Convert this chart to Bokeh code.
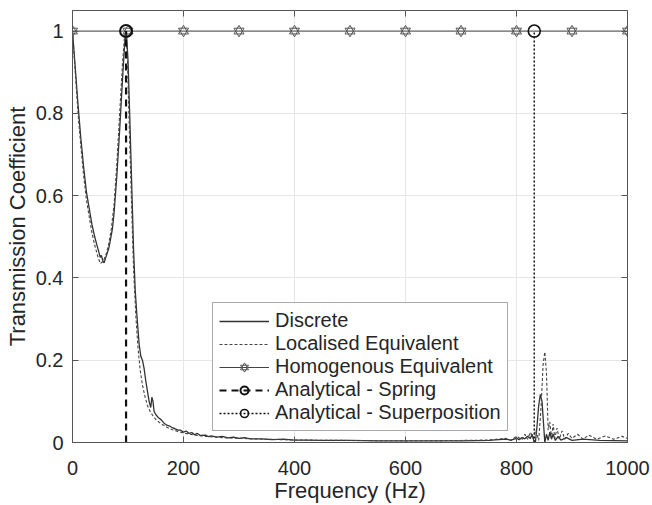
from bokeh.plotting import figure
from bokeh.models import LinearAxis, FixedTicker, Legend, LegendItem, Range1d
from bokeh.embed import file_html
from bokeh.resources import INLINE

# ---------------- data ----------------
disc_f = [0, 5, 10, 15, 20, 25, 30, 35, 40, 45, 50, 52, 55, 57, 60, 65, 68, 72, 75, 80, 85, 90, 94, 97,
          100, 103, 106, 110, 113, 116, 120, 123, 126, 129, 132, 135, 138, 141, 143, 145, 147, 150, 155,
          160, 165, 170, 175, 180, 185, 190, 195, 200, 205, 210, 215, 220, 225, 230, 240, 245, 250, 260,
          270, 280, 290, 300, 310, 320, 340, 360, 380, 400, 420, 450, 500, 550, 600, 650, 700, 750, 780,
          790, 800, 805, 810, 815, 820, 825, 828, 831, 834, 837, 840, 843, 846, 849, 851, 854, 857, 860,
          863, 866, 870, 875, 880, 890, 900, 920, 950, 1000]
disc_t = [1.0, 0.91, 0.82, 0.74, 0.67, 0.61, 0.57, 0.53, 0.50, 0.475, 0.45, 0.455, 0.44, 0.437, 0.45,
          0.47, 0.49, 0.52, 0.56, 0.65, 0.76, 0.88, 0.97, 1.0,
          0.93, 0.80, 0.66, 0.47, 0.37, 0.31, 0.24, 0.21, 0.20, 0.18, 0.15, 0.125, 0.10, 0.085, 0.11, 0.10,
          0.075, 0.068, 0.06, 0.055, 0.047, 0.042, 0.04, 0.036, 0.033, 0.03, 0.03, 0.025, 0.028, 0.022,
          0.024, 0.019, 0.022, 0.017, 0.018, 0.014, 0.016, 0.013, 0.015, 0.011, 0.013, 0.010, 0.012,
          0.009, 0.009, 0.007, 0.008, 0.006, 0.006, 0.005, 0.005, 0.004, 0.004, 0.004, 0.004, 0.005,
          0.008, 0.006, 0.010, 0.007, 0.012, 0.009, 0.015, 0.010, 0.020, 0.005, 0.0, 0.04, 0.09, 0.117,
          0.10, 0.04, 0.0, 0.02, 0.005, 0.025, 0.008, 0.02, 0.005, 0.015, 0.006, 0.012, 0.005, 0.008,
          0.005, 0.004]

loc_f = [0, 5, 10, 15, 20, 25, 30, 35, 40, 45, 50, 55, 60, 65, 70, 75, 80, 85, 90, 94, 96, 99, 102, 106,
         110, 114, 118, 122, 126, 130, 135, 140, 145, 150, 160, 170, 180, 190, 200, 220, 240, 260, 280,
         300, 350, 400, 500, 600, 700, 750, 780, 790, 800, 810, 815, 820, 825, 830, 835, 840, 844, 848,
         851, 854, 857, 860, 863, 866, 869, 873, 877, 882, 887, 893, 900, 910, 920, 930, 945, 960, 975,
         990, 1000]
loc_t = [1.0, 0.90, 0.80, 0.72, 0.65, 0.59, 0.55, 0.51, 0.48, 0.455, 0.435, 0.44, 0.455, 0.48, 0.52,
         0.58, 0.68, 0.80, 0.92, 0.99, 1.0, 0.93, 0.78, 0.60, 0.42, 0.31, 0.23, 0.175, 0.14, 0.115, 0.09,
         0.075, 0.065, 0.056, 0.045, 0.037, 0.031, 0.027, 0.023, 0.018, 0.015, 0.013, 0.011, 0.010,
         0.008, 0.006, 0.005, 0.004, 0.005, 0.006, 0.010, 0.005, 0.015, 0.007, 0.020, 0.008, 0.025,
         0.010, 0.030, 0.005, 0.08, 0.19, 0.22, 0.17, 0.03, 0.05, 0.01, 0.045, 0.01, 0.035, 0.008, 0.028,
         0.008, 0.022, 0.010, 0.020, 0.008, 0.018, 0.008, 0.016, 0.008, 0.015, 0.010]

homo_f = [0, 100, 200, 300, 400, 500, 600, 700, 800, 900, 1000]
homo_t = [1, 1, 1, 1, 1, 1, 1, 1, 1, 1, 1]

spring_f = [96.5, 96.5]
spring_t = [0, 1]
super_f = [832, 832]
super_t = [0, 1]

x_ticks = [0, 200, 400, 600, 800, 1000]
y_ticks = [0, 0.2, 0.4, 0.6, 0.8, 1]
y_tick_labels = ["0", "0.2", "0.4", "0.6", "0.8", "1"]

FONT = "Liberation Sans"

p = figure(width=652, height=505, output_backend="svg", toolbar_location=None,
           x_range=Range1d(0, 1000), y_range=Range1d(0, 1.05),
           min_border_left=72, min_border_right=25, min_border_top=10, min_border_bottom=62)
p.background_fill_color = "white"
p.border_fill_color = "white"
p.outline_line_color = "#555555"
p.outline_line_width = 1

for ax in (p.xaxis[0], p.yaxis[0]):
    ax.axis_line_color = "#555555"
    ax.major_tick_in = 6
    ax.major_tick_out = 0
    ax.minor_tick_line_color = None
    ax.major_tick_line_color = "#555555"
    ax.major_label_text_font = FONT
    ax.major_label_text_font_size = "20px"
    ax.major_label_text_color = "#262626"
    ax.axis_label_text_font = FONT
    ax.axis_label_text_font_size = "22px"
    ax.axis_label_text_font_style = "normal"
    ax.axis_label_text_color = "#262626"

p.xaxis.ticker = FixedTicker(ticks=x_ticks)
p.yaxis.ticker = FixedTicker(ticks=y_ticks)
p.yaxis.major_label_overrides = {t: l for t, l in zip(y_ticks, y_tick_labels)}
p.xaxis.axis_label = "Frequency (Hz)"
p.yaxis.axis_label = "Transmission Coefficient"
p.xaxis.major_label_standoff = 18
p.xaxis.axis_label_standoff = 0
p.yaxis.major_label_standoff = 9
p.yaxis.axis_label_standoff = 3

for loc, tk in (("above", x_ticks), ("right", y_ticks)):
    a = LinearAxis(ticker=FixedTicker(ticks=tk), axis_line_color=None,
                   major_tick_in=6, major_tick_out=0, minor_tick_line_color=None,
                   major_tick_line_color="#555555", major_label_text_font_size="0px",
                   major_label_standoff=0)
    p.add_layout(a, loc)

p.xgrid.ticker = FixedTicker(ticks=x_ticks)
p.ygrid.ticker = FixedTicker(ticks=y_ticks)
p.grid.grid_line_color = "#e6e6e6"
p.grid.grid_line_width = 1

r_disc = p.line(disc_f, disc_t, line_color="#333333", line_width=1.3)
r_loc = p.line(loc_f, loc_t, line_color="#444444", line_width=1.1, line_dash="3 2")
r_homo = p.line(homo_f, homo_t, line_color="#444444", line_width=1)
r_h1 = p.scatter(homo_f, homo_t, marker="triangle", size=10, fill_color=None,
                 line_color="#555555", line_width=1)
r_h2 = p.scatter(homo_f, homo_t, marker="inverted_triangle", size=10, fill_color=None,
                 line_color="#555555", line_width=1)
r_spr = p.line(spring_f, spring_t, line_color="#111111", line_width=2.2, line_dash="7 5")
r_spr_m = p.scatter(spring_f[1:], spring_t[1:], marker="circle", size=12, fill_color=None,
                    line_color="#111111", line_width=2)
r_sup = p.line(super_f, super_t, line_color="#111111", line_width=1.5, line_dash="2 2")
r_sup_m = p.scatter(super_f[1:], super_t[1:], marker="circle", size=12, fill_color=None,
                    line_color="#111111", line_width=1.6)

legend = Legend(items=[
    LegendItem(label="Discrete", renderers=[r_disc]),
    LegendItem(label="Localised Equivalent", renderers=[r_loc]),
    LegendItem(label="Homogenous Equivalent", renderers=[r_homo, r_h1, r_h2]),
    LegendItem(label="Analytical - Spring", renderers=[r_spr, r_spr_m]),
    LegendItem(label="Analytical - Superposition", renderers=[r_sup, r_sup_m]),
], location=(140, 11))
legend.label_text_font = FONT
legend.label_text_font_size = "20px"
legend.label_text_color = "#262626"
legend.glyph_width = 50
legend.glyph_height = 20
legend.label_height = 20
legend.spacing = 0
legend.padding = 6
legend.margin = 0
legend.label_standoff = 6
legend.border_line_color = "#555555"
legend.border_line_width = 1
legend.background_fill_color = "white"
legend.background_fill_alpha = 1
p.add_layout(legend, "center")

open("out.html", "w").write(file_html(p, INLINE))
